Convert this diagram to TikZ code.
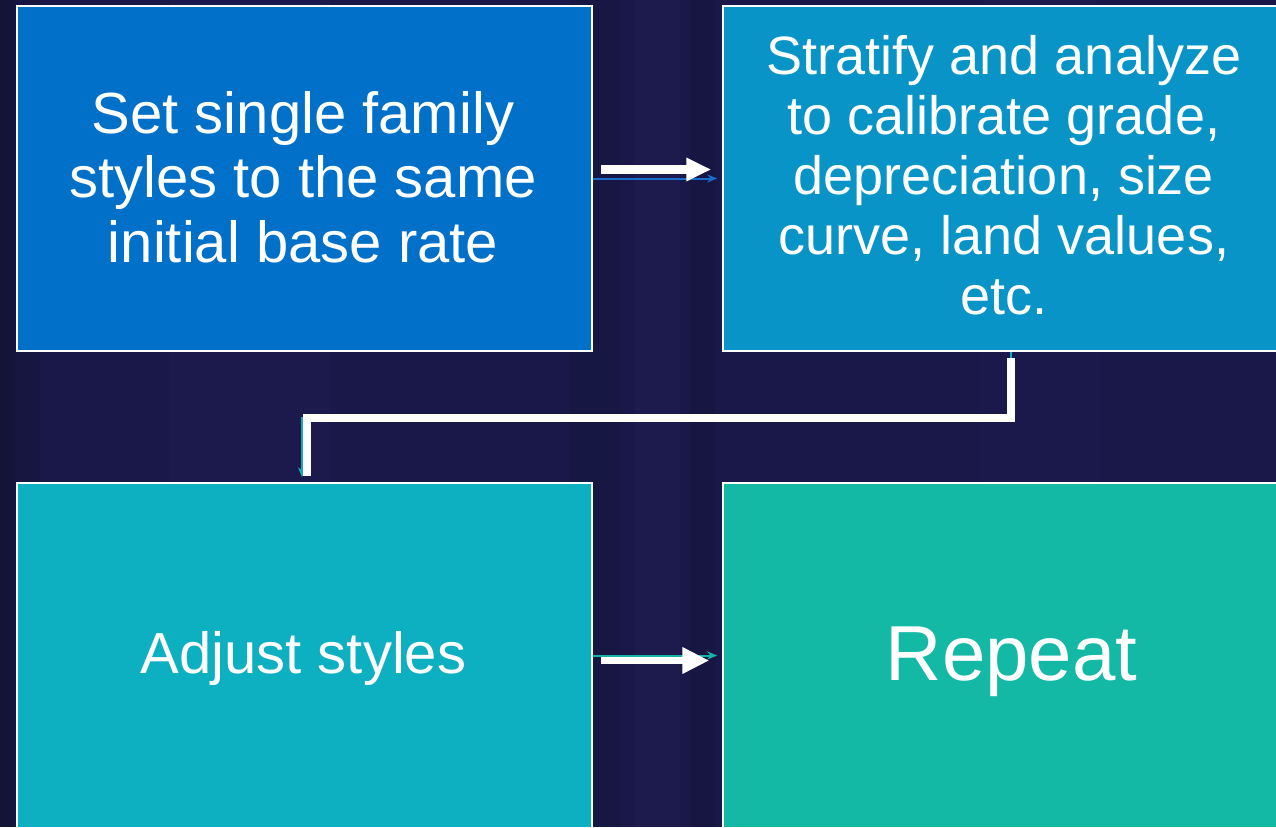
\documentclass[tikz,border=0pt]{standalone}
\usepackage{fontspec}
\setmainfont{Liberation Sans}
\usetikzlibrary{arrows.meta,positioning}

\definecolor{bgnavy}{HTML}{1A1848}
\definecolor{bgdark}{HTML}{121538}
\definecolor{bglight}{HTML}{1F1C52}
\definecolor{stepA}{HTML}{0070C8}
\definecolor{stepB}{HTML}{0894C6}
\definecolor{stepC}{HTML}{0DB0C0}
\definecolor{stepD}{HTML}{14B9A6}
\definecolor{linkA}{HTML}{1A6CCC}
\definecolor{linkB}{HTML}{12A8C6}
\definecolor{linkC}{HTML}{14B5A8}

\tikzset{
  stepbox/.style={draw=white, line width=1.5pt, minimum width=575pt,
    minimum height=345pt, inner sep=0pt},
  steptext/.style={text=white, align=center, inner sep=0pt},
  thinlink/.style={line width=2pt, -{Stealth[length=10pt,width=8pt]}},
  blockarrow/.style={draw=white, line width=#1},
  elbowlink/.style={draw=white, line width=8pt, line join=miter}
}

\begin{document}
\begin{tikzpicture}[x=1pt,y=-1pt]
  % backdrop with faint vertical banding
  \useasboundingbox (0,0) rectangle (1276,827);
  \fill[bgnavy] (0,0) rectangle (1276,827);
  \fill[bgdark] (0,0) rectangle (14,827);
  \fill[bgdark, opacity=0.4] (14,0) rectangle (40,827);
  \fill[bglight, opacity=0.5] (170,0) rectangle (330,827);
  \fill[bgdark, opacity=0.3] (570,0) rectangle (620,827);
  \fill[bglight, opacity=0.6] (635,0) rectangle (680,827);
  \fill[bgdark, opacity=0.35] (690,0) rectangle (715,827);
  \fill[bglight, opacity=0.35] (980,0) rectangle (1100,827);

  % the four steps
  \node[stepbox, fill=stepA] (b1) at (304.5,178.5) {};
  \node[stepbox, fill=stepB] (b2) at (1010.5,178.5) {};
  \node[stepbox, fill=stepC] (b3) at (304.5,655.5) {};
  \node[stepbox, fill=stepD] (b4) at (1010.5,655.5) {};

  \node[steptext, font=\fontsize{58}{64.5}\selectfont] (t1) at (303,177)
    {Set single family\\styles to the same\\initial base rate};
  \node[steptext, font=\fontsize{54}{60}\selectfont] (t2) at (1004,175.5)
    {Stratify and analyze\\to calibrate grade,\\depreciation, size\\curve, land values,\\etc.};
  \node[steptext, font=\fontsize{58}{64}\selectfont, anchor=base] (t3) at (303.5,673)
    {Adjust styles};
  \node[steptext, font=\fontsize{78}{90}\selectfont, anchor=base] (t4) at (1011.5,680)
    {Repeat};

  % thin connectors between the steps
  \draw[thinlink, linkA] (b1.east) -- ([xshift=-5pt]b2.west);
  \draw[thinlink, linkB] (b2.south) -- ++(0,66)
    -| ([xshift=-2.5pt,yshift=5pt]b3.north);
  \draw[thinlink, linkC] (b3.east) -- ([xshift=-5pt]b4.west);

  % white block arrows over the connectors
  \draw[blockarrow=9pt, -{Triangle[length=25pt,width=22pt]}]
    ([xshift=8pt,yshift=9pt]b1.east) -- ([xshift=-11pt,yshift=9pt]b2.west);
  \draw[elbowlink] ([yshift=-6pt]b2.south) -- ++(0,60)
    -| ([xshift=2.5pt,yshift=6pt]b3.north);
  \draw[blockarrow=7.5pt, -{Triangle[length=27pt,width=25pt]}]
    ([xshift=8pt,yshift=-5pt]b3.east) -- ([xshift=-13pt,yshift=-5pt]b4.west);
\end{tikzpicture}
\end{document}
